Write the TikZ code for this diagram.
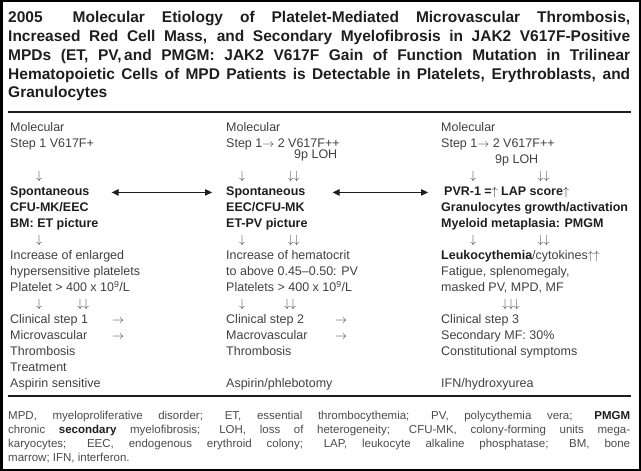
\documentclass[tikz,border=0pt]{standalone}
\usepackage{fontspec}
\setmainfont{Liberation Sans}
\usetikzlibrary{arrows.meta}
\definecolor{ink}{HTML}{1E1E1E}

\tikzset{
  body/.style={anchor=base west,inner sep=0pt,align=left,text=ink!85,
    font=\fontsize{12.5bp}{16bp}\selectfont},
  bodybf/.style={body,text=ink,font=\fontsize{12.5bp}{16bp}\selectfont\bfseries},
  glyph/.style={anchor=base,inner sep=0pt,text=ink!85,
    font=\fontsize{12.5bp}{16bp}\selectfont},
  para/.style={anchor=base west,inner sep=0pt,text width=622bp,align=justify},
  dblarrow/.style={{Triangle[length=7bp,width=6.5bp]}-{Triangle[length=7bp,width=6.5bp]},
    line width=1.1bp,draw=ink},
}

\begin{document}
\begin{tikzpicture}[x=1bp,y=-1bp]
  \useasboundingbox (0,0) rectangle (641,471);
  \draw[line width=2.5bp] (1.25,1.25) rectangle (639.75,469.75);

  % title
  \node[para,text=ink,font=\fontsize{15.5bp}{18.75bp}\selectfont\bfseries]
    (ttl) at (8,22.8)
    {\tolerance=9999 \hyphenpenalty=10000
     2005\hspace{30bp}Molecular Etiology of Platelet-Mediated Microvascular Thrombosis,\linebreak
     Increased Red Cell Mass, and Secondary Myelofibrosis in JAK2 V617F-Positive\linebreak
     MPDs (ET, PV,\,and PMGM: JAK2 V617F Gain of Function Mutation in Trilinear\linebreak
     Hematopoietic Cells of MPD Patients is Detectable in Platelets, Erythroblasts, and\linebreak
     Granulocytes};
  \draw[line width=1.6bp,ink] (8,112) -- (631,112);
  \draw[line width=2bp,ink] (8,396) -- (631,396);

  % column 1 (nodes sit on the baseline of their last line)
  \node[body] (m1) at (10,147.5) {Molecular\\Step 1 V617F+};
  \node[bodybf] (sp1) at (10,195.5) {Spontaneous};
  \node[bodybf] (cf1) at (10,227.5) {CFU-MK/EEC\\BM: ET picture};
  \node[body] (in1) at (10,291.5)
    {Increase of enlarged\\hypersensitive platelets\\Platelet > 400 x 10\textsuperscript{9}/L};
  \node[body] (cl1) at (10,387.5)
    {Clinical step 1\\Microvascular\\Thrombosis\\Treatment\\Aspirin sensitive};

  % column 2
  \node[body] (m2) at (226,147.5) {Molecular\\Step 1$\rightarrow$ 2 V617F++};
  \node[body] (loh2) at (294,158.5) {9p LOH};
  \node[bodybf] (sp2) at (226,195.5) {Spontaneous};
  \node[bodybf] (ec2) at (226,227.5) {EEC/CFU-MK\\ET-PV picture};
  \node[body] (in2) at (226,291.5)
    {Increase of hematocrit\\to above 0.45--0.50: PV\\Platelets > 400 x 10\textsuperscript{9}/L};
  \node[body] (cl2) at (226,355.5) {Clinical step 2\\Macrovascular\\Thrombosis};
  \node[body] (tx2) at (226,387.5) {Aspirin/phlebotomy};

  % column 3
  \node[body] (m3) at (441,147.5) {Molecular\\Step 1$\rightarrow$ 2 V617F++};
  \node[body] (loh3) at (495,163.5) {9p LOH};
  \node[bodybf] (sp3) at (444,195.5) {PVR-1 =$\uparrow$ LAP score$\uparrow$};
  \node[bodybf] (gr3) at (441,227.5) {Granulocytes growth/activation\\Myeloid metaplasia: PMGM};
  \node[body] (lk3) at (441,291.5)
    {\textcolor{ink}{\bfseries Leukocythemia}/cytokines$\uparrow\uparrow$\\Fatigue, splenomegaly,\\masked PV, MPD, MF};
  \node[body] (cl3) at (441,355.5) {Clinical step 3\\Secondary MF: 30\%\\Constitutional symptoms};
  \node[body] (tx3) at (441,387.5) {IFN/hydroxyurea};

  % small arrows
  \foreach \x/\y/\t [count=\i] in {
      39/179.5/$\downarrow$, 39/243.5/$\downarrow$,
      39/307.5/$\downarrow$, 83/307.5/$\downarrow\downarrow$,
      118/323.5/$\rightarrow$, 118/339.5/$\rightarrow$,
      242/179.5/$\downarrow$, 293.5/179.5/$\downarrow\downarrow$,
      242/243.5/$\downarrow$, 293.5/243.5/$\downarrow\downarrow$,
      242/307.5/$\downarrow$, 290/307.5/$\downarrow\downarrow$,
      341/323.5/$\rightarrow$, 341/339.5/$\rightarrow$,
      473/179.5/$\downarrow$, 543.5/179.5/$\downarrow\downarrow$,
      473/243.5/$\downarrow$, 543.5/243.5/$\downarrow\downarrow$,
      511/307.5/$\downarrow\downarrow\downarrow$}
    \node[glyph] (ar\i) at (\x,\y) {\t};

  \draw[dblarrow,yshift=-2bp,shorten <=22bp,shorten >=14bp] (sp1.east) -- (sp2.west);
  \draw[dblarrow,yshift=-2bp,shorten <=27bp,shorten >=16bp] (sp2.east) -- (sp3.west |- sp2.east);

  % footnote
  \node[para,text=ink!80,font=\fontsize{11.5bp}{14bp}\selectfont]
    (fn) at (8,419)
    {\tolerance=9999 \hyphenpenalty=10000
     MPD, myeloproliferative disorder; ET, essential thrombocythemia; PV, polycythemia vera; \textcolor{ink}{\bfseries PMGM}\linebreak
     chronic \textcolor{ink}{\bfseries secondary} myelofibrosis; LOH, loss of heterogeneity; CFU-MK, colony-forming units mega-\linebreak
     karyocytes; EEC, endogenous erythroid colony; LAP, leukocyte alkaline phosphatase; BM, bone\linebreak
     marrow; IFN, interferon.};
\end{tikzpicture}
\end{document}
